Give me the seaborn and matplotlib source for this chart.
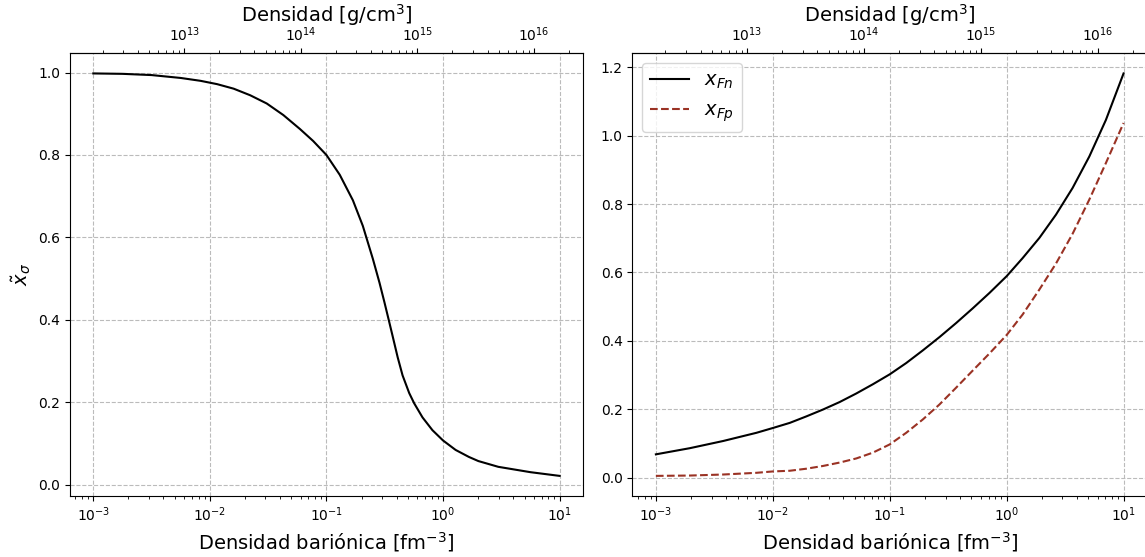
import numpy as np
import pandas as pd
import matplotlib
matplotlib.use("Agg")
import matplotlib.pyplot as plt
from matplotlib.ticker import LogLocator, NullFormatter
import seaborn as sns

# log10 de la densidad barionica [fm^-3] y fraccion x_sigma (panel izquierdo)
lognb_sigma = [-3.0, -2.75, -2.5, -2.25, -2.079, -1.938, -1.796, -1.654, -1.512,
               -1.370, -1.227, -1.114, -1.0, -0.886, -0.773, -0.688, -0.602,
               -0.545, -0.503, -0.466, -0.432, -0.389, -0.347, -0.290, -0.247,
               -0.176, -0.091, 0.0, 0.108, 0.222, 0.303, 0.474, 0.75, 1.0]
x_sigma = [0.998, 0.997, 0.994, 0.987, 0.980, 0.972, 0.961, 0.945, 0.925,
           0.897, 0.863, 0.834, 0.800, 0.752, 0.690, 0.628, 0.548,
           0.490, 0.443, 0.400, 0.360, 0.309, 0.265, 0.222, 0.197,
           0.163, 0.132, 0.107, 0.084, 0.067, 0.057, 0.043, 0.030, 0.021]

# momentos de Fermi adimensionales (panel derecho)
lognb_fermi = [-3.0, -2.71, -2.425, -2.14, -2.0, -1.855, -1.713, -1.571, -1.428,
               -1.286, -1.144, -1.0, -0.859, -0.717, -0.574, -0.432, -0.290,
               -0.147, 0.0, 0.137, 0.280, 0.422, 0.564, 0.707, 0.849, 1.0]
x_Fn = [0.068, 0.086, 0.107, 0.131, 0.145, 0.160, 0.179, 0.199, 0.221,
        0.246, 0.273, 0.302, 0.335, 0.372, 0.411, 0.452, 0.495,
        0.540, 0.589, 0.642, 0.701, 0.769, 0.847, 0.939, 1.046, 1.182]
x_Fp = [0.005, 0.006, 0.009, 0.014, 0.018, 0.020, 0.026, 0.034, 0.044,
        0.056, 0.073, 0.097, 0.131, 0.170, 0.214, 0.263, 0.313,
        0.363, 0.417, 0.477, 0.550, 0.626, 0.713, 0.813, 0.920, 1.037]

# conversion fm^-3 -> g/cm^3
conv = 1.66e15

plt.rcParams['font.family'] = ['DejaVu Sans']

fig = plt.figure(figsize=(11.45, 5.57), dpi=100)
ax1 = fig.add_axes([0.0611, 0.1095, 0.448, 0.7948])
ax2 = fig.add_axes([0.5524, 0.1095, 0.4493, 0.7948])

df1 = pd.DataFrame({'nb': 10.0 ** np.array(lognb_sigma), 'x': x_sigma})
sns.lineplot(data=df1, x='nb', y='x', ax=ax1, color='black', linewidth=1.5)
ax1.set_ylabel(r'$\tilde{x}_\sigma$', fontsize=14)

nb_f = 10.0 ** np.array(lognb_fermi)
df2 = pd.DataFrame({'nb': nb_f, 'n': x_Fn, 'p': x_Fp})
sns.lineplot(data=df2, x='nb', y='n', ax=ax2, color='black', linewidth=1.5,
             label=r'$x_{Fn}$')
sns.lineplot(data=df2, x='nb', y='p', ax=ax2, color='#9a3224', linewidth=1.5,
             linestyle='--', label=r'$x_{Fp}$')
ax2.set_ylabel('')
ax2.legend(loc='upper left', fontsize=14)

for ax in (ax1, ax2):
    ax.set_xscale('log')
    ax.set_xlabel('Densidad bariónica [fm$^{-3}$]', fontsize=14)
    ax.xaxis.set_minor_locator(LogLocator(base=10, subs=np.arange(2, 10), numticks=100))
    ax.xaxis.set_minor_formatter(NullFormatter())
    ax.grid(True, which='major', linestyle='--', color='#bbbbbb', linewidth=0.8)
    ax.tick_params(labelsize=10)
    sec = ax.secondary_xaxis('top', functions=(lambda n: n * conv, lambda r: r / conv))
    sec.xaxis.set_minor_locator(LogLocator(base=10, subs=np.arange(2, 10), numticks=100))
    sec.xaxis.set_minor_formatter(NullFormatter())
    sec.set_xlabel('Densidad [g/cm$^3$]', fontsize=14, labelpad=2)
    sec.tick_params(labelsize=10)

plt.savefig('out.png', dpi=100)
